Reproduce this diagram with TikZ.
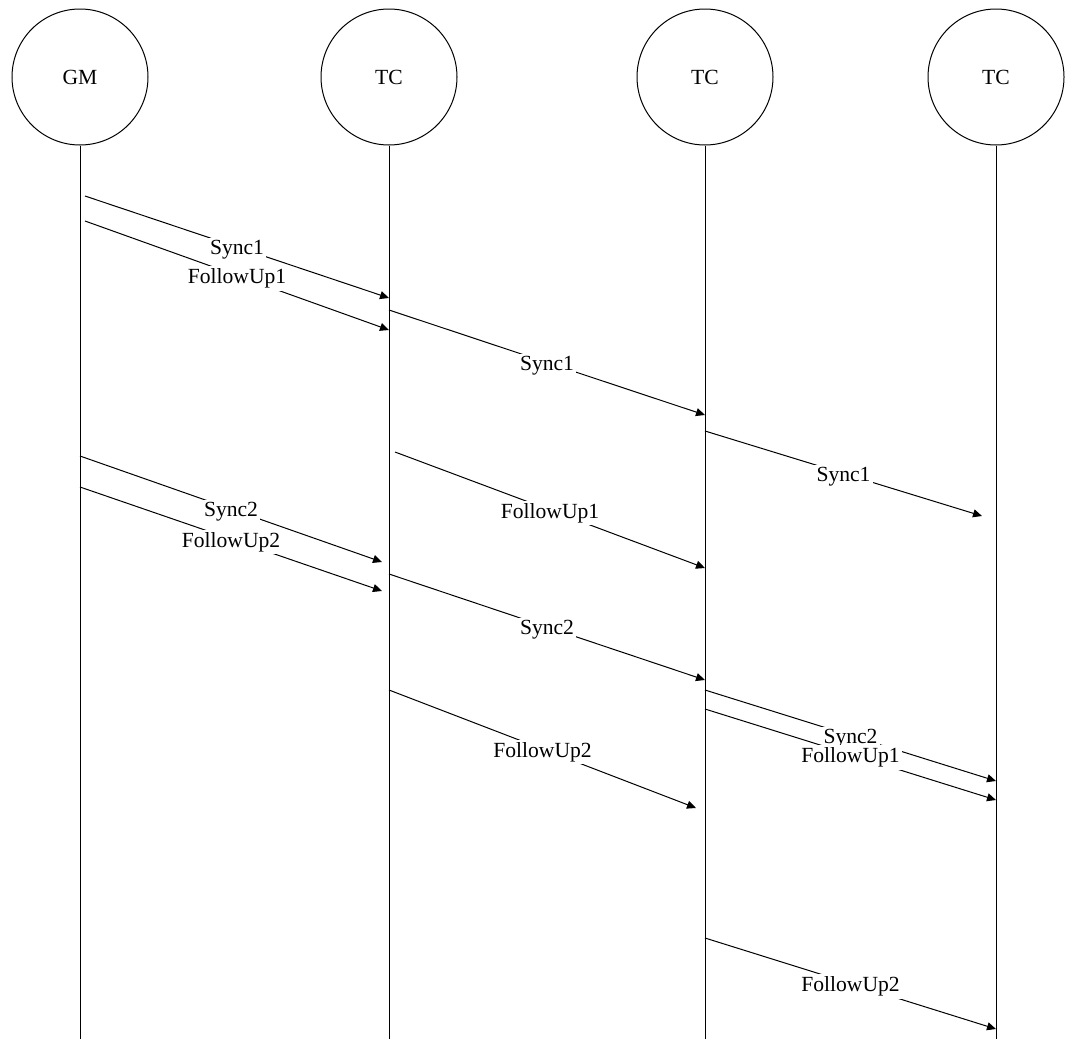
\documentclass[tikz,border=0pt]{standalone}
\usepackage{fontspec}
\setmainfont{Liberation Serif}
\usetikzlibrary{arrows.meta}

\tikzset{
    actor/.style={draw, circle, minimum size=68pt, inner sep=0pt, line width=0.5pt},
    lifeline/.style={line width=0.5pt},
    msg/.style={line width=0.5pt, -{Triangle[length=4.5pt,width=4pt]}},
    lbl/.style={fill=white, inner sep=1.2pt, yshift=-1.5pt}
}

\begin{document}
\begin{tikzpicture}[x=0.5pt, y=-0.5pt, font=\fontsize{10.8}{13}\selectfont]
    % Fix the page to the size of the picture
    \useasboundingbox (0,0) rectangle (1065,1039);

    % The four clocks
    \node[actor] (gm) at (80,77) {GM};
    \node[actor] (tc1) at (389,77) {TC};
    \node[actor] (tc2) at (705,77) {TC};
    \node[actor] (tc3) at (996,77) {TC};

    % Lifelines
    \coordinate (gmend) at (80,1039);
    \coordinate (tc1end) at (389,1039);
    \coordinate (tc2end) at (705,1039);
    \coordinate (tc3end) at (996,1039);
    \draw[lifeline] (gm.south) -- (gmend);
    \draw[lifeline] (tc1.south) -- (tc1end);
    \draw[lifeline] (tc2.south) -- (tc2end);
    \draw[lifeline] (tc3.south) -- (tc3end);

    % First round
    \draw[msg] ([xshift=2.5pt]gm |- 0,196) -- node[lbl] {Sync1} (tc1 |- 0,298);
    \draw[msg] ([xshift=2.5pt]gm |- 0,221) -- node[lbl] {FollowUp1} (tc1 |- 0,330);
    \draw[msg] (tc1 |- 0,310) -- node[lbl] {Sync1} (tc2 |- 0,415);
    \draw[msg] (tc2 |- 0,431) -- node[lbl] {Sync1} ([xshift=-7pt]tc3 |- 0,516);

    % Second round
    \draw[msg] (gm |- 0,456) -- node[lbl] {Sync2} ([xshift=-3.5pt]tc1 |- 0,562);
    \draw[msg] (gm |- 0,487) -- node[lbl] {FollowUp2} ([xshift=-3.5pt]tc1 |- 0,591);
    \draw[msg] ([xshift=3pt]tc1 |- 0,452) -- node[lbl] {FollowUp1} (tc2 |- 0,568);
    \draw[msg] (tc1 |- 0,574) -- node[lbl] {Sync2} (tc2 |- 0,680);
    \draw[msg] (tc1 |- 0,690) -- node[lbl] {FollowUp2} ([xshift=-4.5pt]tc2 |- 0,808);
    \draw[msg] (tc2 |- 0,690) -- node[lbl] {Sync2} (tc3 |- 0,781);
    \draw[msg] (tc2 |- 0,709) -- node[lbl] {FollowUp1} (tc3 |- 0,800);
    \draw[msg] (tc2 |- 0,938) -- node[lbl] {FollowUp2} (tc3 |- 0,1029);
\end{tikzpicture}
\end{document}
